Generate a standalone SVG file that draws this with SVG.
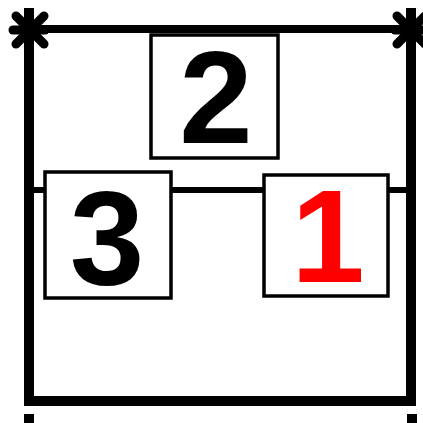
<svg xmlns="http://www.w3.org/2000/svg" width="423" height="423" viewBox="0 0 423 423">
<style>
.frame{stroke:#000;stroke-width:10;fill:none}
.thin{stroke:#000;stroke-width:6;fill:none}
.star{stroke:#000;stroke-width:9;stroke-linecap:round}
.box{fill:#fff;stroke:#000;stroke-width:3.5}
.num{font-family:"Liberation Sans",Arial,sans-serif;font-weight:bold;text-anchor:middle}
</style>
<g id="connectors">
<line class="frame" x1="29" y1="8" x2="29" y2="406"/>
<line class="frame" x1="411" y1="8" x2="411" y2="406"/>
<line class="frame" x1="24" y1="401" x2="416" y2="401"/>
<line class="thin" x1="29" y1="29" x2="411" y2="29" style="stroke-width:8"/>
<line class="thin" x1="29" y1="190" x2="411" y2="190"/>
<line class="frame" x1="29" y1="414" x2="29" y2="423"/>
<line class="frame" x1="412" y1="414" x2="412" y2="423"/>
</g>
<g id="star-left">
<line class="star" x1="16" y1="16" x2="44" y2="44"/>
<line class="star" x1="44" y1="16" x2="16" y2="44"/>
<line class="star" x1="13" y1="30" x2="45" y2="30"/>
</g>
<g id="star-right">
<line class="star" x1="397" y1="16" x2="425" y2="44"/>
<line class="star" x1="425" y1="16" x2="397" y2="44"/>
<line class="star" x1="395" y1="30" x2="423" y2="30"/>
</g>
<g id="node2">
<rect class="box" x="151" y="35" width="127" height="123"/>
<text class="num" x="216" y="143" font-size="132">2</text>
</g>
<g id="node3">
<rect class="box" x="45" y="172" width="126" height="126"/>
<text class="num" x="107" y="285" font-size="134">3</text>
</g>
<g id="node1">
<rect class="box" x="264" y="175" width="124" height="121"/>
<text class="num" x="328" y="282" font-size="132" fill="#f00">1</text>
</g>
</svg>
